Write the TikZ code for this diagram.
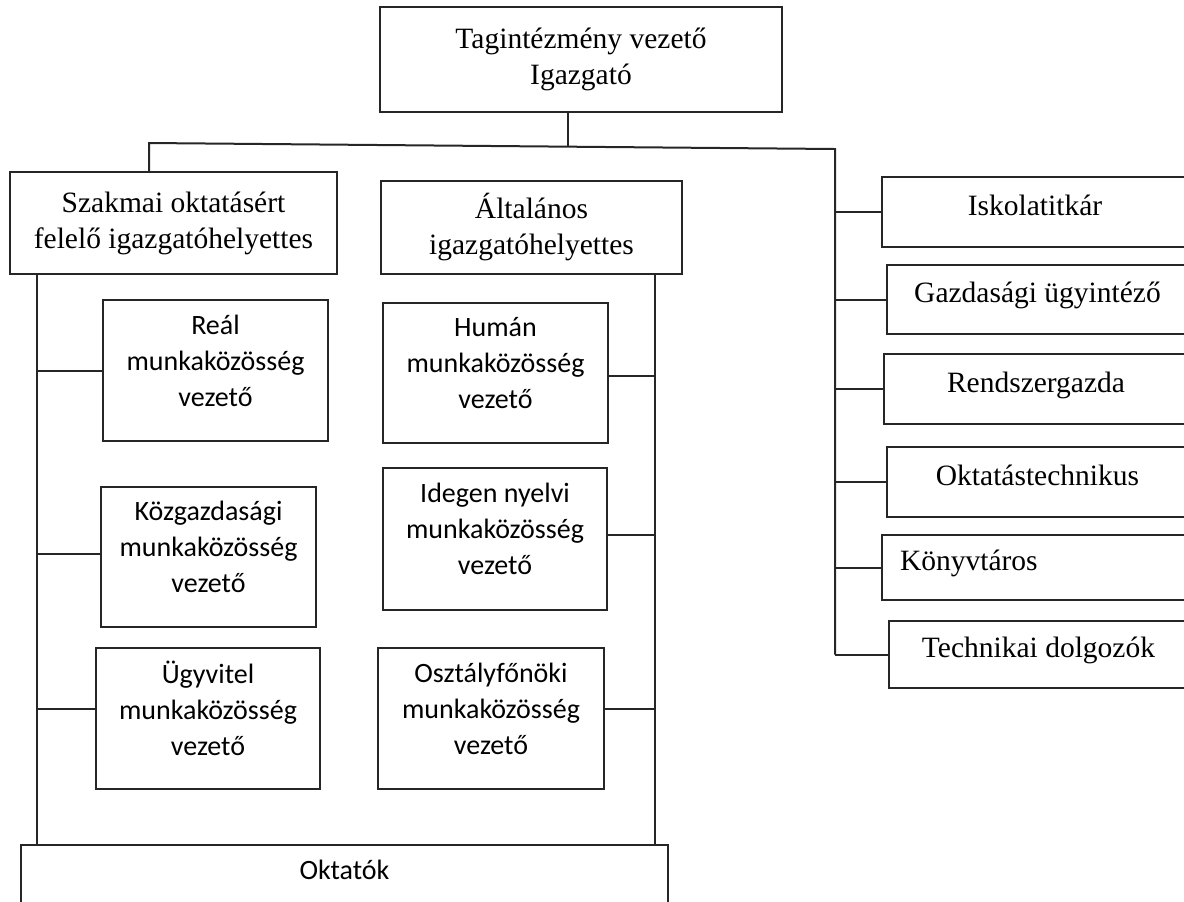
\documentclass[tikz,border=0pt]{standalone}
\usepackage{fontspec}
\setmainfont{Liberation Serif}
\newfontfamily\calibfont{Carlito}
\usetikzlibrary{positioning}

\begin{document}
\begin{tikzpicture}[x=0.5pt,y=-0.5pt,
	serifbox/.style={draw=black!85, line width=1pt, align=center, inner sep=0pt, font=\fontsize{14.75}{18}\selectfont},
	sansbox/.style={draw=black!85, line width=1pt, align=center, inner sep=0pt, font=\calibfont\fontsize{14}{18}\selectfont},
	groupbox/.style={sansbox, text depth=10pt},
	staffbox/.style={serifbox, text height=10pt, text depth=7pt},
	link/.style={draw=black!85, line width=1pt}]
	\useasboundingbox (0,0) rectangle (1184,901);
	% vezetes
	\node[serifbox, minimum width=201pt, minimum height=52.5pt] (dir) at (581,59.5) {Tagintézmény vezető\\Igazgató};
	\node[serifbox, minimum width=163.5pt, minimum height=51pt] (szakh) at (173.5,223) {Szakmai oktatásért\\felelő igazgatóhelyettes};
	\node[serifbox, minimum width=150.5pt, minimum height=46.5pt] (altalh) at (531.5,227.5) {Általános\\igazgatóhelyettes};
	% munkakozossegek
	\node[groupbox, minimum width=112.5pt, minimum height=70.5pt] (real) at (215.5,370.5) {Reál\\munkaközösség\\vezető};
	\node[groupbox, minimum width=112.5pt, minimum height=70pt] (human) at (495.5,373) {Humán\\munkaközösség\\vezető};
	\node[groupbox, minimum width=107.5pt, minimum height=70pt] (kozg) at (208.5,557) {Közgazdasági\\munkaközösség\\vezető};
	\node[groupbox, minimum width=112pt, minimum height=71pt] (idegen) at (495,539) {Idegen nyelvi\\munkaközösség\\vezető};
	\node[groupbox, minimum width=112pt, minimum height=70.5pt] (ugyv) at (208,718.5) {Ügyvitel\\munkaközösség\\vezető};
	\node[groupbox, minimum width=113pt, minimum height=70.5pt] (osztf) at (491,718.5) {Osztályfőnöki\\munkaközösség\\vezető};
	\node[sansbox, text height=10pt, text depth=16pt, minimum width=323.5pt, minimum height=40pt] (oktatok) at (344.5,885) {Oktatók};
	% jobb oldal
	\node[staffbox, minimum width=153pt, minimum height=35pt] (titkar) at (1035,212) {Iskolatitkár};
	\node[staffbox, minimum width=150.5pt, minimum height=34.5pt] (gazd) at (1037.5,299.5) {Gazdasági ügyintéző};
	\node[staffbox, minimum width=152pt, minimum height=35pt] (rendszg) at (1036,389) {Rendszergazda};
	\node[staffbox, minimum width=150.5pt, minimum height=35pt] (okttech) at (1037.5,482) {Oktatástechnikus};
	\node[staffbox, align=left, text width=135pt, inner xsep=9pt, minimum height=32.5pt] (konyvt) at (1035,567.5) {Könyvtáros};
	\node[staffbox, minimum width=149.5pt, minimum height=33.5pt] (techn) at (1038.5,654.5) {Technikai dolgozók};

	\coordinate (busL) at (149,143);
	\coordinate (busR) at (835,149);
	\coordinate (busM) at (568,146.7);
	\coordinate (lbus) at (37,0);
	\coordinate (rbus) at (655,0);

	\draw[link] (dir.south -| busM) -- (busM);
	\draw[link] (szakh.north -| busL) -- (busL) -- (busR) -- (busR |- techn.west);
	\foreach \n in {titkar,gazd,rendszg,okttech,konyvt,techn} \draw[link] (busR |- \n.west) -- (\n.west);
	\draw[link] (szakh.south -| lbus) -- (oktatok.north -| lbus);
	\draw[link] (altalh.south -| rbus) -- (oktatok.north -| rbus);
	\draw[link] (real.west -| lbus) -- (real.west);
	\draw[link] ([yshift=1.5pt]kozg.west -| lbus) -- ([yshift=1.5pt]kozg.west);
	\draw[link] ([yshift=5pt]ugyv.west -| lbus) -- ([yshift=5pt]ugyv.west);
	\draw[link] ([yshift=-1.5pt]human.east) -- ([yshift=-1.5pt]human.east -| rbus);
	\draw[link] ([yshift=2pt]idegen.east) -- ([yshift=2pt]idegen.east -| rbus);
	\draw[link] ([yshift=5pt]osztf.east) -- ([yshift=5pt]osztf.east -| rbus);
\end{tikzpicture}
\end{document}
